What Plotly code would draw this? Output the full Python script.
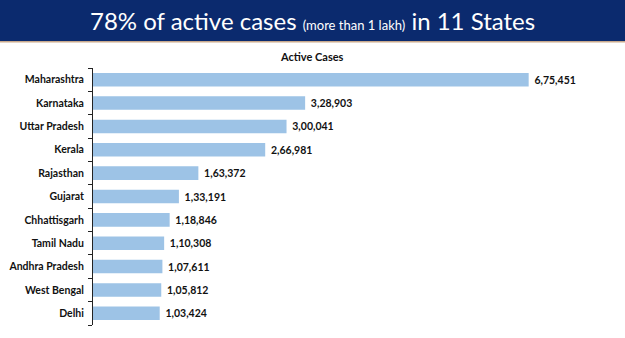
import plotly.graph_objects as go

states = ["Maharashtra", "Karnataka", "Uttar Pradesh", "Kerala", "Rajasthan", "Gujarat",
          "Chhattisgarh", "Tamil Nadu", "Andhra Pradesh", "West Bengal", "Delhi"]
active_cases = [675451, 328903, 300041, 266981, 163372, 133191, 118846, 110308, 107611, 105812, 103424]

chart_title = "Active Cases"
header_main = "78% of active cases"
header_small = "(more than 1 lakh)"
header_tail = "in 11 States"


def indian_format(n):
    s = str(n)
    if len(s) <= 3:
        return s
    last3 = s[-3:]
    rest = s[:-3]
    parts = []
    while len(rest) > 2:
        parts.insert(0, rest[-2:])
        rest = rest[:-2]
    if rest:
        parts.insert(0, rest)
    return ",".join(parts) + "," + last3


labels = [indian_format(v) for v in active_cases]

W, H = 625, 338
L, R, T, B = 93, 16, 68, 13
PW = W - L - R
PH = H - T - B


def px_x(px):
    return (px - L) / PW


def px_y(py):
    return (H - B - py) / PH


fig = go.Figure(go.Bar(
    x=active_cases,
    y=states,
    orientation="h",
    marker=dict(color="#9dc3e6", line=dict(width=0)),
    text=labels,
    textposition="outside",
    textfont=dict(family="Lato", size=10.5, color="#111111"),
    texttemplate="&nbsp;<b>%{text}</b>",
    cliponaxis=False,
    hoverinfo="skip",
))

fig.update_layout(
    width=W, height=H,
    margin=dict(l=L, r=R, t=T, b=B, pad=0, autoexpand=False),
    paper_bgcolor="white",
    plot_bgcolor="white",
    bargap=0.42,
    showlegend=False,
    xaxis=dict(range=[0, 800000], visible=False, fixedrange=True, automargin=False),
    yaxis=dict(
        type="category",
        autorange="reversed",
        automargin=False,
        showline=True, linecolor="#222222", linewidth=1,
        ticks="outside", ticklen=4, tickcolor="#222222", tickwidth=1,
        tickson="boundaries",
        ticklabelstandoff=6,
        tickfont=dict(family="Lato", size=10.5, color="#111111"),
        showgrid=False, zeroline=False,
    ),
    shapes=[
        dict(type="rect", xref="paper", yref="paper",
             x0=px_x(0), x1=px_x(W), y0=px_y(41), y1=px_y(0),
             fillcolor="#0b2a6e", line=dict(width=0), layer="above"),
        dict(type="rect", xref="paper", yref="paper",
             x0=px_x(0), x1=px_x(W), y0=px_y(42.5), y1=px_y(41),
             fillcolor="#c9a98c", line=dict(width=0), layer="above"),
    ],
    annotations=[
        dict(xref="paper", yref="paper", x=px_x(312), y=px_y(21),
             xanchor="center", yanchor="middle", showarrow=False,
             text=f"{header_main} <span style='font-size:13px'>{header_small}</span> {header_tail}",
             font=dict(family="Lato", size=24, color="white")),
        dict(xref="paper", yref="paper", x=px_x(312), y=px_y(57),
             xanchor="center", yanchor="middle", showarrow=False,
             text=f"<b>{chart_title}</b>",
             font=dict(family="Lato", size=11, color="#111111")),
    ],
)

# bold tick labels
fig.update_yaxes(tickvals=states, ticktext=[f"<b>{s}</b>" for s in states])

fig.write_html("out.html")
